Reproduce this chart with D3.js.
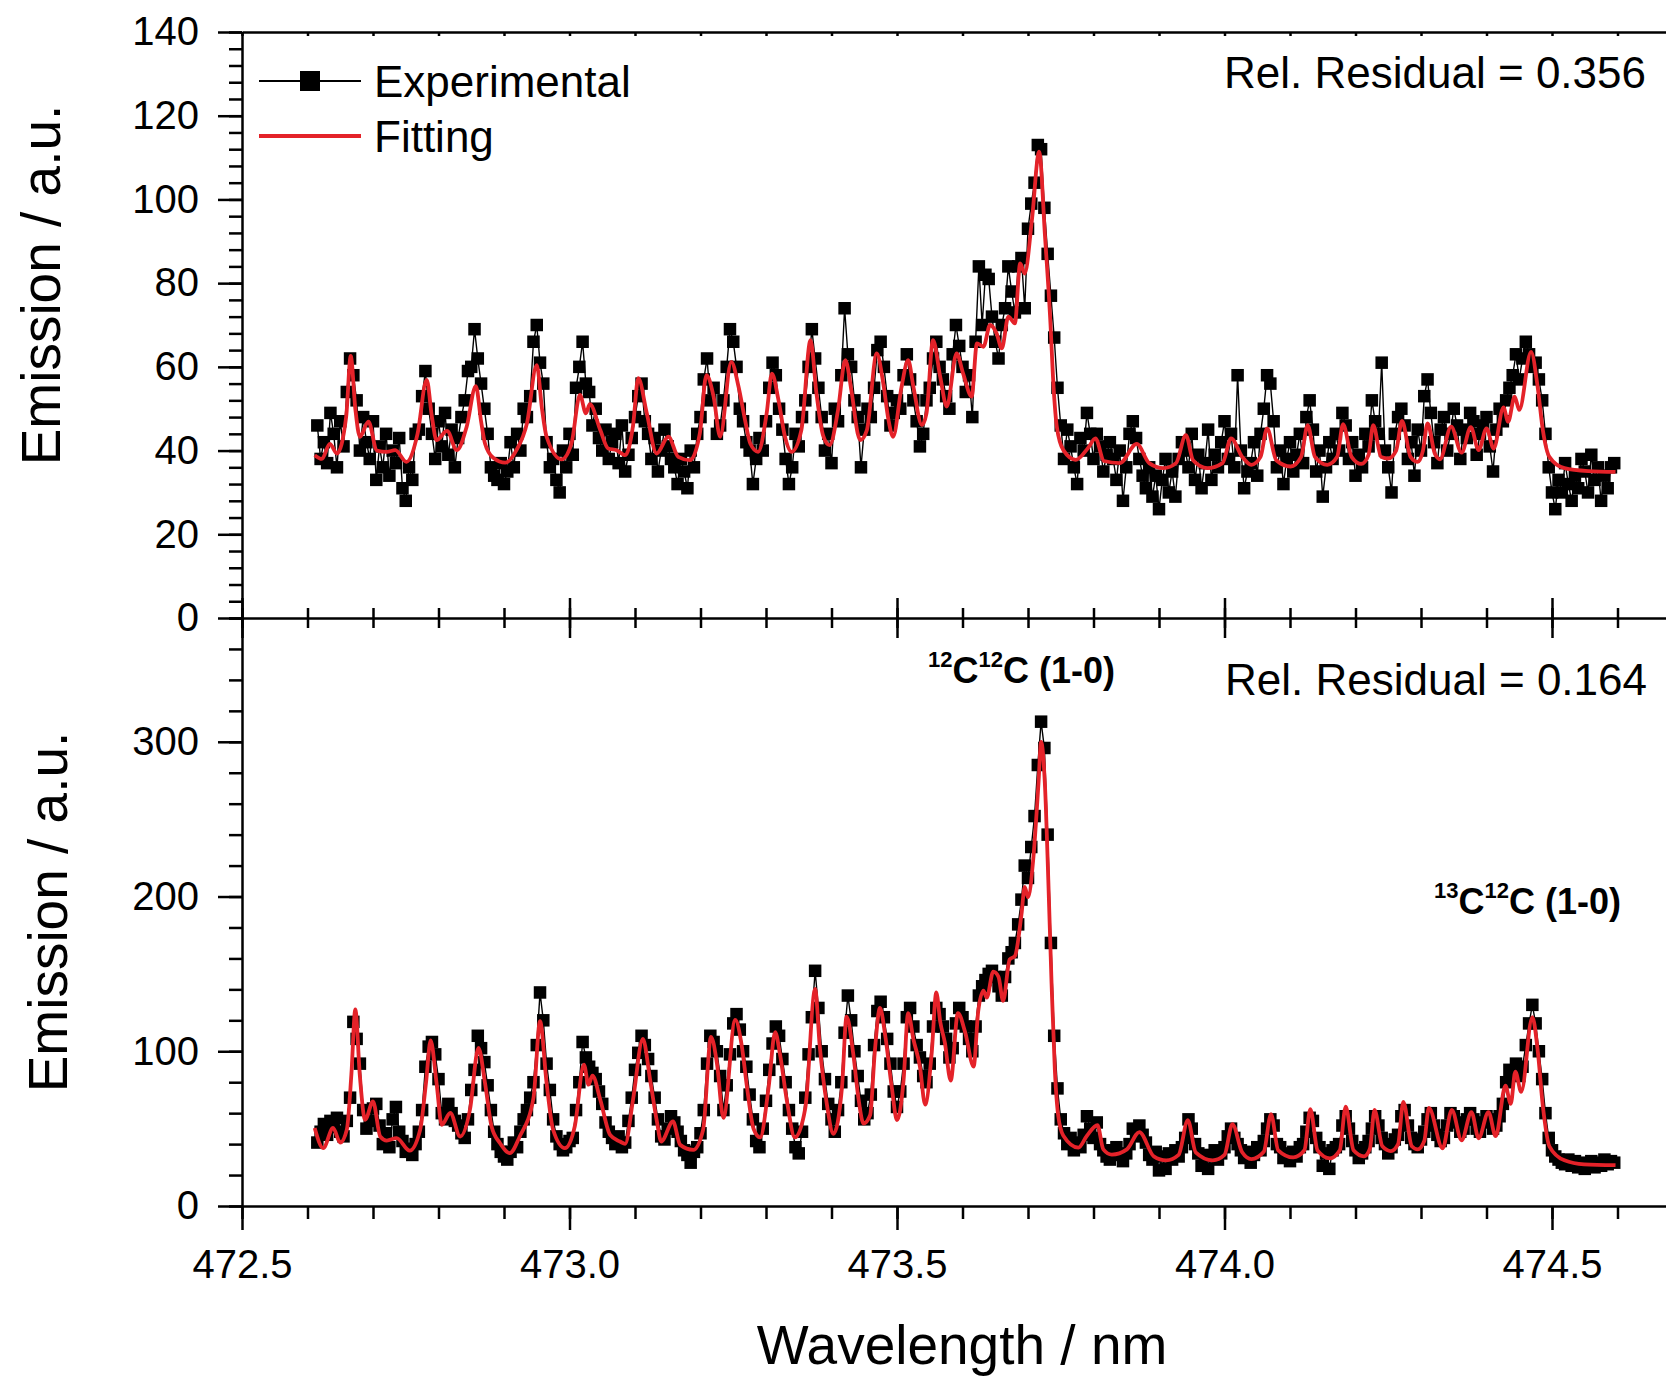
<!DOCTYPE html>
<html>
<head>
<meta charset="utf-8">
<script src="https://d3js.org/d3.v7.min.js"></script>
<style>
  body { margin: 0; background: #fff; }
  svg { display: block; }
  text { font-family: "Liberation Sans", Arial, Helvetica, sans-serif; }
</style>
</head>
<body>
<div id="chart"></div>
<script>
// ---- data ----
// experimental spectra: one value per 0.005 nm, starting at 472.615 nm
var expStart = 472.615;
var expStep = 0.005;

var topExp = [
  46,38,42,37,49,44,36,47,41,54, 62,58,52,40,48,42,38,47,33,41,
  36,44,34,40,37,43,31,28,36,33, 44,45,53,59,50,44,38,47,41,49,
  39,45,36,43,48,52,59,60,69,62, 56,50,44,36,34,33,37,32,35,42,
  36,44,40,50,48,53,66,70,61,56, 42,36,38,33,30,40,36,44,39,55,
  60,66,56,54,46,50,43,40,45,38, 42,44,37,46,35,39,43,48,53,56,
  47,44,38,43,35,40,45,41,38,36, 32,38,35,31,40,36,44,48,57,62,
  52,55,44,46,52,60,69,66,60,50, 47,42,40,32,38,43,40,47,55,61,
  58,50,45,38,32,36,44,41,48,52, 60,69,62,55,48,40,44,37,50,47,
  58,74,63,60,52,48,36,45,50,48, 55,64,66,60,53,46,49,52,50,58,
  63,57,52,47,41,44,52,55,62,66, 60,57,53,50,63,70,65,60,54,58,
  48,66,84,70,82,81,72,66,62,70, 74,84,78,73,84,86,74,93,99,104,
  113,112,98,87,77,67,55,46,38,45, 41,36,32,43,40,49,44,38,44,41,
  35,39,42,38,33,40,28,36,44,47, 43,38,34,31,36,29,34,26,33,38,
  30,35,29,38,42,40,36,44,33,39, 31,37,45,33,39,36,42,47,38,44,
  36,58,40,31,35,37,42,34,44,50, 58,56,47,36,40,32,38,42,35,39,
  44,37,48,52,45,35,40,29,36,42, 38,44,40,49,46,38,42,34,39,36,
  44,41,52,47,44,61,40,36,30,44, 48,50,46,38,42,34,45,40,53,57,
  49,42,37,45,48,40,44,50,46,38, 45,43,49,47,39,44,46,48,41,35,
  45,50,47,52,55,58,63,57,62,66, 63,60,61,57,52,44,36,30,26,33,
  30,37,32,28,34,31,38,35,30,39, 33,36,28,34,31,36,37
];

var bottomExp = [
  41,48,53,46,55,51,57,48,45,55, 70,119,108,92,62,50,55,63,66,52,
  40,47,38,56,64,48,42,35,37,33, 40,48,62,90,103,106,98,82,60,56,
  66,60,55,52,47,44,56,75,88,110, 102,93,78,62,48,40,35,32,30,35,
  41,38,48,56,62,70,80,104,138,120, 92,75,56,45,40,36,38,42,44,62,
  80,106,96,90,86,82,74,66,54,48, 44,40,45,38,41,55,70,88,99,110,
  104,95,84,70,56,45,43,50,58,54, 48,42,36,33,28,35,38,47,62,92,
  110,106,100,84,62,78,98,118,124,114, 100,90,72,56,42,38,50,68,88,105,
  116,110,95,80,62,50,38,34,48,70, 98,122,152,128,100,82,66,56,48,62,
  80,112,136,120,100,84,68,56,60,72, 104,126,132,122,108,92,74,64,74,92,
  122,128,116,104,96,84,80,92,116,128, 124,116,108,96,102,118,128,122,116,108,
  100,116,136,142,146,150,152,148,142,136, 148,160,164,170,182,198,220,212,232,252,
  285,313,296,240,170,110,76,56,47,40, 44,36,41,38,46,58,50,44,54,40,
  36,32,30,36,38,33,29,34,40,50, 45,52,46,41,33,30,35,23,32,24,
  34,30,36,32,38,44,56,50,40,34, 26,33,24,32,36,30,34,38,45,50,
  44,40,36,31,35,28,33,38,36,42, 50,56,52,40,38,31,34,29,35,32,
  38,40,48,57,55,44,38,26,34,24, 36,38,40,52,58,50,42,36,31,34,
  38,42,50,58,52,44,40,34,38,43, 46,58,62,52,44,40,38,43,48,56,
  60,52,46,42,44,52,60,58,54,48, 50,56,60,56,50,48,54,58,56,50,
  52,58,66,80,88,86,92,84,90,104, 118,130,118,100,82,60,44,36,32,30,
  28,27,30,26,29,25,28,24,27,29, 25,28,26,30,27,29,28
];

// fitted curves (wavelength, emission)
var topFitX = [
  472.611,472.622,472.634,472.645,472.659,472.666,472.673,472.680,472.693,472.706,
  472.721,472.734,472.751,472.768,472.782,472.790,472.797,472.813,472.828,472.843,
  472.857,472.865,472.871,472.884,472.902,472.919,472.935,472.950,472.958,472.965,
  472.988,473.003,473.016,473.025,473.031,473.047,473.059,473.072,473.085,473.097,
  473.105,473.118,473.133,473.151,473.166,473.184,473.199,473.209,473.220,473.230,
  473.247,473.258,473.268,473.276,473.288,473.301,473.309,473.319,473.329,473.339,
  473.354,473.368,473.377,473.387,473.397,473.410,473.421,473.431,473.440,473.444,
  473.454,473.469,473.479,473.487,473.494,473.507,473.517,473.525,473.538,473.545,
  473.555,473.566,473.576,473.591,473.601,473.614,473.622,473.632,473.642,473.652,
  473.660,473.670,473.680,473.688,473.695,473.706,473.717,473.726,473.734,473.739,
  473.744,473.754,473.773,473.792,473.803,473.816,473.840,473.866,473.885,473.907,
  473.926,473.941,473.952,473.974,473.997,474.010,474.027,474.041,474.055,474.065,
  474.079,474.101,474.117,474.127,474.138,474.157,474.172,474.181,474.194,474.209,
  474.220,474.227,474.239,474.250,474.262,474.271,474.284,474.295,474.303,474.310,
  474.321,474.329,474.346,474.362,474.376,474.388,474.400,474.411,474.426,474.433,
  474.443,474.450,474.468,474.478,474.486,474.496,474.519,474.556,474.597
];
var topFitY = [
  38.9,38.0,41.6,39.3,48.0,62.6,50.0,43.3,46.9,40.0,
  39.7,40.1,37.3,44.0,56.9,48.0,42.5,44.7,40.1,45.7,
  55.4,47.0,41.7,38.2,37.1,40.1,46.5,60.4,50.0,43.3,
  37.9,41.7,53.3,48.9,51.1,44.9,40.5,40.1,38.9,46.0,
  57.3,48.9,39.3,43.3,38.5,37.7,44.1,58.0,52.9,43.3,
  61.2,55.3,47.3,41.7,39.7,48.9,58.4,52.1,43.3,39.7,
  44.9,66.4,53.7,43.7,41.3,49.7,61.6,53.7,44.1,42.5,
  44.9,63.2,56.1,47.3,43.3,55.3,61.6,55.3,46.1,48.9,
  66.4,57.6,50.5,63.2,58.4,52.9,65.6,64.8,70.0,68.0,
  64.4,72.0,70.4,84.7,82.3,95.1,111.4,91.1,71.2,55.3,
  45.7,40.1,37.8,40.7,42.9,37.5,37.0,41.6,37.0,35.8,
  37.0,43.7,37.7,35.8,37.0,42.9,38.5,36.6,38.5,45.3,
  37.7,36.2,38.5,46.1,38.5,36.6,38.5,46.3,38.5,36.8,
  39.0,46.1,38.5,38.1,40.0,47.1,38.5,37.3,40.0,46.5,
  39.3,37.9,45.7,39.5,45.6,40.1,45.3,40.5,50.3,46.9,
  52.9,49.7,63.6,55.3,44.9,38.5,35.8,35.1,34.9
];

var bottomFitX = [
  472.611,472.624,472.639,472.650,472.660,472.667,472.673,472.680,472.688,472.700,
  472.711,472.721,472.736,472.756,472.772,472.781,472.788,472.797,472.805,472.818,
  472.833,472.848,472.861,472.871,472.881,472.894,472.909,472.924,472.945,472.955,
  472.965,472.975,472.993,473.008,473.022,473.029,473.035,473.047,473.062,473.077,
  473.085,473.097,473.112,473.123,473.133,473.140,473.158,473.169,473.189,473.204,
  473.216,473.225,473.235,473.253,473.263,473.271,473.281,473.291,473.304,473.314,
  473.321,473.332,473.344,473.360,473.375,473.382,473.393,473.403,473.416,473.423,
  473.433,473.441,473.449,473.459,473.466,473.474,473.482,473.492,473.500,473.510,
  473.517,473.525,473.535,473.543,473.553,473.560,473.566,473.573,473.582,473.593,
  473.604,473.617,473.624,473.632,473.637,473.647,473.655,473.662,473.672,473.680,
  473.690,473.695,473.700,473.708,473.716,473.720,473.726,473.731,473.736,473.741,
  473.746,473.754,473.777,473.790,473.806,473.815,473.828,473.851,473.870,473.892,
  473.911,473.930,473.944,473.956,473.982,474.000,474.012,474.027,474.041,474.060,
  474.071,474.082,474.105,474.122,474.131,474.142,474.161,474.176,474.185,474.197,
  474.213,474.222,474.229,474.241,474.254,474.265,474.273,474.286,474.295,474.305,
  474.312,474.333,474.347,474.362,474.377,474.388,474.403,474.414,474.429,474.437,
  474.444,474.453,474.470,474.478,474.486,474.496,474.519,474.549,474.597
];
var bottomFitY = [
  50.4,37.4,50.4,41.0,49.3,85.0,127.0,83.8,55.7,67.6,
  44.9,42.3,43.9,35.8,49.3,80.0,107.1,79.5,52.5,60.1,
  44.9,62.2,102.2,79.5,51.4,40.6,34.2,44.9,69.8,119.4,
  79.5,49.3,37.4,51.4,91.4,78.4,84.3,68.7,46.0,41.7,
  40.2,68.7,108.0,81.7,55.7,41.7,54.6,39.5,36.3,49.3,
  109.3,92.5,57.0,120.2,103.5,76.7,49.9,44.3,76.7,112.4,
  99.0,67.8,44.3,63.3,140.3,103.5,65.5,46.6,76.7,122.4,
  99.0,70.0,53.3,58.8,99.0,128.0,110.2,76.7,55.5,81.1,
  124.7,107.9,90.1,65.5,99.0,138.0,119.1,105.7,81.1,124.7,
  112.4,90.1,125.8,139.2,134.7,151.5,148.1,132.5,159.3,161.5,
  188.3,206.2,199.4,224.0,273.1,299.9,270.8,210.6,143.6,87.9,
  58.8,45.4,37.7,45.4,52.2,36.6,33.2,36.6,47.8,32.1,
  29.5,33.0,55.5,34.7,29.5,33.0,52.9,34.7,30.3,35.0,
  59.4,36.0,31.4,36.0,62.6,36.0,30.8,36.0,64.2,36.0,
  32.1,37.0,62.1,38.6,35.5,40.0,67.3,38.6,36.6,42.0,
  63.4,37.3,62.1,42.5,60.7,43.8,60.7,45.1,77.7,66.0,
  86.8,73.8,122.0,101.1,64.7,38.6,29.5,26.9,26.4
];

// ticks
var xMajorTicks = [472.5, 473.0, 473.5, 474.0, 474.5];
var xMinorTicks = d3.range(0, 23).map(function(i) { return 472.5 + i * 0.1; });
var topYTicks = [0, 20, 40, 60, 80, 100, 120, 140];
var topYMinor = d3.range(0, 36).map(function(i) { return i * 4; });
var bottomYTicks = [0, 100, 200, 300];
var bottomYMinor = d3.range(0, 20).map(function(i) { return i * 20; });

// ---- layout ----
var svgWidth = 1666, svgHeight = 1377;
var plotLeft = 242, plotRight = 1683;
var panelTop = 32, panelMid = 618, panelBottom = 1206;
var red = "#e42229";
var fontFam = "'Liberation Sans', Arial, Helvetica, sans-serif";
var sq = 12.5;

var svg = d3.select("#chart").append("svg")
  .attr("width", svgWidth)
  .attr("height", svgHeight);

var x = d3.scaleLinear().domain([472.5, 474.7]).range([plotLeft, plotRight]);
var yTop = d3.scaleLinear().domain([0, 140]).range([panelMid, panelTop]);
var yBot = d3.scaleLinear().domain([0, 380]).range([panelBottom, panelMid]);

function styleAxis(g, keepDomain) {
  g.attr("font-size", 40).attr("font-family", fontFam);
  g.selectAll("line").attr("stroke", "#000").attr("stroke-width", 2.5);
  if (keepDomain) g.select(".domain").attr("stroke", "#000").attr("stroke-width", 2.5);
  else g.select(".domain").remove();
  g.selectAll("text").attr("fill", "#000");
}

// ---- series ----
function drawSeries(expVals, fitX, fitY, yScale) {
  var pts = expVals.map(function(v, i) { return { w: expStart + i * expStep, v: v }; });
  var fit = fitX.map(function(w, i) { return { w: w, v: fitY[i] }; });

  var expLine = d3.line().x(function(d) { return x(d.w); }).y(function(d) { return yScale(d.v); });
  svg.append("path")
    .datum(pts)
    .attr("d", expLine)
    .attr("fill", "none")
    .attr("stroke", "#000")
    .attr("stroke-width", 1.4);

  svg.append("g").selectAll("rect")
    .data(pts)
    .enter()
    .append("rect")
    .attr("x", function(d) { return x(d.w) - sq / 2; })
    .attr("y", function(d) { return yScale(d.v) - sq / 2; })
    .attr("width", sq)
    .attr("height", sq)
    .attr("fill", "#000");

  var fitLine = d3.line()
    .curve(d3.curveMonotoneX)
    .x(function(d) { return x(d.w); })
    .y(function(d) { return yScale(d.v); });
  svg.append("path")
    .datum(fit)
    .attr("d", fitLine)
    .attr("fill", "none")
    .attr("stroke", red)
    .attr("stroke-width", 3.8)
    .attr("stroke-linejoin", "round");
}

drawSeries(topExp, topFitX, topFitY, yTop);
drawSeries(bottomExp, bottomFitX, bottomFitY, yBot);

// ---- axes ----
// top panel, left
styleAxis(svg.append("g").attr("transform", "translate(" + plotLeft + ",0)")
  .call(d3.axisLeft(yTop).tickValues(topYMinor).tickSize(13).tickSizeOuter(0).tickFormat("")), true);
styleAxis(svg.append("g").attr("transform", "translate(" + plotLeft + ",0)")
  .call(d3.axisLeft(yTop).tickValues(topYTicks).tickSize(24).tickPadding(19).tickFormat(d3.format("d"))), false);

// bottom panel, left
styleAxis(svg.append("g").attr("transform", "translate(" + plotLeft + ",0)")
  .call(d3.axisLeft(yBot).tickValues(bottomYMinor).tickSize(13).tickSizeOuter(0).tickFormat("")), true);
styleAxis(svg.append("g").attr("transform", "translate(" + plotLeft + ",0)")
  .call(d3.axisLeft(yBot).tickValues(bottomYTicks).tickSize(24).tickPadding(19).tickFormat(d3.format("d"))), false);

// top frame line with small inner ticks
styleAxis(svg.append("g").attr("transform", "translate(0," + panelTop + ")")
  .call(d3.axisBottom(x).tickValues(xMinorTicks).tickSize(4).tickSizeOuter(0).tickFormat("")), true);

// shared middle axis, crossing ticks
styleAxis(svg.append("g").attr("transform", "translate(0," + panelMid + ")")
  .call(d3.axisBottom(x).tickValues(xMinorTicks).tickSize(10).tickSizeOuter(0).tickFormat("")), true);
styleAxis(svg.append("g").attr("transform", "translate(0," + panelMid + ")")
  .call(d3.axisTop(x).tickValues(xMinorTicks).tickSize(10).tickFormat("")), false);
styleAxis(svg.append("g").attr("transform", "translate(0," + panelMid + ")")
  .call(d3.axisBottom(x).tickValues(xMajorTicks).tickSize(20).tickFormat("")), false);
styleAxis(svg.append("g").attr("transform", "translate(0," + panelMid + ")")
  .call(d3.axisTop(x).tickValues(xMajorTicks).tickSize(20).tickFormat("")), false);

// bottom x axis
styleAxis(svg.append("g").attr("transform", "translate(0," + panelBottom + ")")
  .call(d3.axisBottom(x).tickValues(xMinorTicks).tickSize(13).tickSizeOuter(0).tickFormat("")), true);
styleAxis(svg.append("g").attr("transform", "translate(0," + panelBottom + ")")
  .call(d3.axisBottom(x).tickValues(xMajorTicks).tickSize(24).tickPadding(20).tickFormat(d3.format(".1f"))), false);

// ---- axis titles ----
svg.append("text")
  .attr("transform", "translate(60,285) rotate(-90)")
  .attr("text-anchor", "middle")
  .attr("font-size", 55)
  .text("Emission / a.u.");
svg.append("text")
  .attr("transform", "translate(67,912) rotate(-90)")
  .attr("text-anchor", "middle")
  .attr("font-size", 55)
  .text("Emission / a.u.");
svg.append("text")
  .attr("x", 962)
  .attr("y", 1364)
  .attr("text-anchor", "middle")
  .attr("font-size", 55)
  .text("Wavelength / nm");

// ---- legend ----
svg.append("line").attr("x1", 259).attr("x2", 361).attr("y1", 81).attr("y2", 81)
  .attr("stroke", "#000").attr("stroke-width", 2);
svg.append("rect").attr("x", 300).attr("y", 71).attr("width", 20).attr("height", 20).attr("fill", "#000");
svg.append("text").attr("x", 374).attr("y", 97).attr("font-size", 44).text("Experimental");
svg.append("line").attr("x1", 259).attr("x2", 361).attr("y1", 136).attr("y2", 136)
  .attr("stroke", red).attr("stroke-width", 4);
svg.append("text").attr("x", 374).attr("y", 152).attr("font-size", 44).text("Fitting");

// ---- annotations ----
svg.append("text").attr("x", 1646).attr("y", 88).attr("text-anchor", "end")
  .attr("font-size", 44).text("Rel. Residual = 0.356");
svg.append("text").attr("x", 1647).attr("y", 695).attr("text-anchor", "end")
  .attr("font-size", 44).text("Rel. Residual = 0.164");

function isotopeLabel(px, py, a, b) {
  var t = svg.append("text").attr("x", px).attr("y", py)
    .attr("font-size", 36).attr("font-weight", "bold");
  t.append("tspan").attr("font-size", 22).attr("dy", -16).text(a);
  t.append("tspan").attr("dy", 16).text("C");
  t.append("tspan").attr("font-size", 22).attr("dy", -16).text(b);
  t.append("tspan").attr("dy", 16).text("C (1-0)");
}
isotopeLabel(928, 683, "12", "12");
isotopeLabel(1434, 914, "13", "12");
</script>
</body>
</html>
